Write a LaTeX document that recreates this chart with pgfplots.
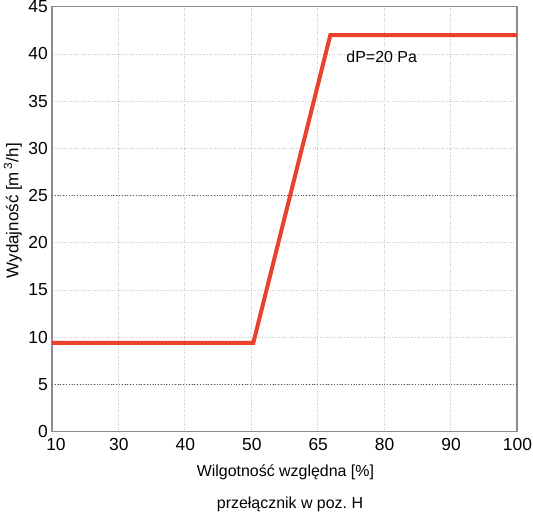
\documentclass[border=0pt]{standalone}
\usepackage{pgfplots}
\pgfplotsset{compat=1.18}
\usepackage{fontspec}
\setmainfont{Liberation Sans}
\definecolor{linered}{HTML}{E8412C}
\definecolor{gridgray}{HTML}{C8C8C8}
\definecolor{framegray}{HTML}{8C8C8C}
\frenchspacing
\begin{document}
\begin{tikzpicture}
\begin{axis}[
  scale only axis,
  width=465bp, height=425bp,
  xmin=0, xmax=7, ymin=0, ymax=45,
  xtick={0,1,2,3,4,5,6,7},
  xticklabels={\hspace{7bp}10,30,40,50,65,80,90,100},
  ytick={0,5,10,15,20,25,30,35,40,45},
  /pgf/number format/assume math mode=true,
  ticklabel style={font=\fontsize{17.5}{19}\selectfont, text=black},
  yticklabel style={inner sep=0bp, xshift=-4bp},
  xticklabel style={inner sep=0bp, yshift=-6.5bp, xshift=0.5bp},
  major tick length=0pt,
  grid=major,
  major grid style={gridgray, dotted, line width=0.8bp},
  extra y ticks={5,25},
  extra y tick labels={},
  extra y tick style={grid=major, major grid style={black!65, dotted, line width=0.8bp}},
  axis line style={framegray, line width=1.5bp},
  xlabel={Wilgotność względna [\%]},
  ylabel={Wydajność [m\,\textsuperscript{3}/h]},
  label style={font=\fontsize{16}{18}\selectfont},
  xlabel style={at={(axis description cs:0.502,0)}, anchor=center, yshift=-41bp},
  ylabel style={at={(axis description cs:-0.084,0.52)}, anchor=center, font=\fontsize{17}{19}\selectfont},
  clip=false,
]
\addplot[linered, line width=4bp, line join=miter] coordinates {
  (0,9.4) (3.03,9.4) (4.19,42) (7,42)
};
\node[anchor=west, font=\fontsize{16}{18}\selectfont] at (axis cs:4.38,39.7) {dP=20 Pa};
\end{axis}
\node[font=\fontsize{16}{18}\selectfont] at ([xshift=238bp,yshift=-73bp]current axis.south west) {przełącznik w poz. H};
\pgfresetboundingbox
\useasboundingbox ([xshift=-52bp,yshift=-80.3bp]current axis.south west) rectangle ++(533bp,512bp);
\end{tikzpicture}
\end{document}
